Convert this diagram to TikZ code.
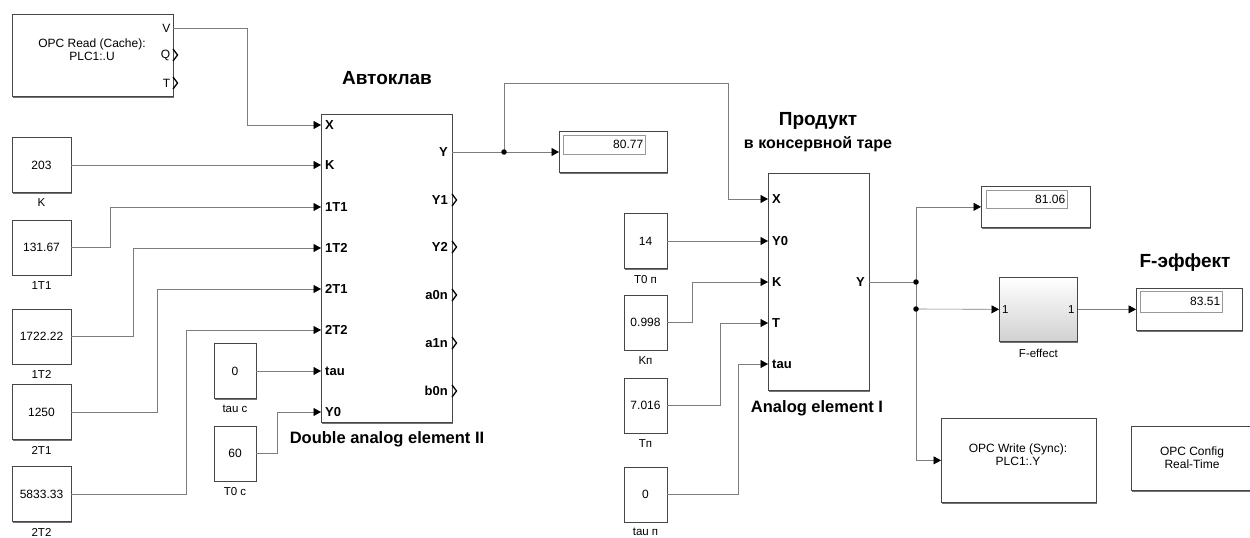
\documentclass[tikz,border=0pt]{standalone}
\usepackage{fontspec}
\setmainfont{Liberation Sans}
\usetikzlibrary{positioning,arrows.meta,shadows}
\definecolor{simline}{RGB}{125,125,125}
\definecolor{simedge}{RGB}{70,70,70}
\newcommand{\fsval}{\fontsize{12}{13}\selectfont}
\newcommand{\fslbl}{\fontsize{11.5}{13}\selectfont}
\newcommand{\fsport}{\fontsize{13}{15}\selectfont\bfseries}
\newcommand{\fstitle}{\fontsize{19}{22}\selectfont\bfseries}
\newcommand{\fssub}{\fontsize{16}{19}\selectfont\bfseries}
\newcommand{\fsname}{\fontsize{16.5}{19}\selectfont\bfseries}

\begin{document}
\begin{tikzpicture}[x=1pt, y=-1pt,
    blk/.style ={rectangle, draw=simedge, fill=white, line width=0.7pt, inner sep=0pt,
                 drop shadow={shadow xshift=1pt, shadow yshift=-1.2pt, fill=black!55, opacity=1}},
    cst/.style ={blk, minimum width=43pt, minimum height=55pt, font=\fsval},
    cstw/.style={cst, minimum width=59pt},
    disp/.style={blk, anchor=north west, minimum height=41pt},
    dval/.style={rectangle, draw=black!40, anchor=north west, inner xsep=2pt, inner ysep=0pt,
                 align=right, font=\fsval},
    inp/.style ={anchor=west, inner xsep=4pt, inner ysep=0pt, font=\fsport},
    outp/.style={anchor=east, inner xsep=4pt, inner ysep=0pt, font=\fsport},
    lbl/.style ={font=\fslbl, inner sep=0pt},
    txt/.style ={font=\fsval, align=center, inner sep=0pt},
    ttl/.style ={font=\fstitle, anchor=base, inner sep=0pt},
    wire/.style={draw=simline, line width=0.6pt},
    arr/.style ={wire, -{Triangle[length=7.5pt, width=8pt, color=black]}},
    chev/.style={draw=black, line width=1.3pt},
    dot/.style ={circle, fill=black, inner sep=0pt, minimum size=5.5pt}]
  \useasboundingbox (0,0) rectangle (1250,538);
  \fill[white] (0,0) rectangle (1250,538);

  \node[blk, anchor=north west, minimum width=161pt, minimum height=82pt] (opcr) at (12,14) {};
  \node[txt] (opcr-t) at (92,50) {OPC Read (Cache):\\PLC1:.U};
  \foreach \p/\y in {V/28, Q/55, T/83}
    \node[outp, inner xsep=2.5pt, font=\fsval] (opcr-\p) at (173,\y) {\p};
  \foreach \p in {Q, T}
    \draw[chev] (opcr-\p.east) ++(0,-6) -- ++(4.5,6) -- ++(-4.5,6);

  \node[blk, anchor=north west, minimum width=131pt, minimum height=308pt] (dae) at (321,114) {};
  \foreach \p/\y in {X/125, K/165, 1T1/207, 1T2/248, 2T1/289, 2T2/330, tau/371, Y0/412}
    \node[inp] (dae-\p) at (321,\y) {\p};
  \foreach \p/\y in {Y/152, Y1/200, Y2/247, a0n/295, a1n/343, b0n/391}
    \node[outp] (dae-\p) at (452,\y) {\p};
  \foreach \p in {Y1, Y2, a0n, a1n, b0n}
    \draw[chev] (dae-\p.east) ++(0,-6) -- ++(4.5,6) -- ++(-4.5,6);
  \node[ttl] (t-auto) at (387,84) {Автоклав};
  \node[ttl, font=\fsname] (t-dae) at (387,443) {Double analog element II};

  \node[cstw] (c203) at (41.5,165)   {203};
  \node[cstw] (c1T1) at (41.5,247.5) {131.67};
  \node[cstw] (c1T2) at (41.5,336.5) {1722.22};
  \node[cstw] (c2T1) at (41.5,412)   {1250};
  \node[cstw] (c2T2) at (41.5,494)   {5833.33};
  \node[cst, minimum width=42pt] (ctau) at (235,371)   {0};
  \node[cst, minimum width=42pt] (cT0)  at (235,453.5) {60};
  \foreach \c/\t in {c203/K, c1T1/1T1, c1T2/1T2, c2T1/2T1, c2T2/2T2, ctau/tau c, cT0/T0 c}
    \node[lbl, below=6pt of \c] (l\c) {\t};

  \node[disp, minimum width=108pt] (d1) at (559,131) {};
  \node[dval, text width=78pt, minimum height=19pt] (d1v) at ([shift={(4,4)}]d1.north west) {80.77};

  \node[blk, anchor=north west, minimum width=101pt, minimum height=217pt] (ae) at (768,173) {};
  \foreach \p/\y in {X/199, Y0/241, K/282, T/323, tau/364}
    \node[inp] (ae-\p) at (768,\y) {\p};
  \node[outp] (ae-Y) at (869,282) {Y};
  \node[ttl] (t-prod) at (818,125) {Продукт};
  \node[ttl, font=\fssub] (t-prod2) at (818,148) {в консервной таре};
  \node[ttl, font=\fsname] (t-ae) at (817,412) {Analog element I};

  \node[cst] (cY0)   at (645.5,241)   {14};
  \node[cst] (cK)    at (645.5,322.5) {0.998};
  \node[cst] (cT)    at (645.5,405.5) {7.016};
  \node[cst] (ctaun) at (645.5,494.5) {0};
  \foreach \c/\t in {cY0/T0 п, cK/Kп, cT/Tп, ctaun/tau п}
    \node[lbl, below=6pt of \c] (l\c) {\t};

  \node[disp, minimum width=109pt] (d2) at (981,186) {};
  \node[dval, text width=77pt, minimum height=18pt] (d2v) at ([shift={(5,4)}]d2.north west) {81.06};
  \node[blk, anchor=north west, minimum width=78pt, minimum height=64pt,
        top color=white, bottom color=black!18] (fef) at (999,277) {};
  \node[anchor=west, font=\fslbl, inner xsep=3pt] (fef-in) at (fef.west) {1};
  \node[anchor=east, font=\fslbl, inner xsep=3pt] (fef-out) at (fef.east) {1};
  \node[lbl, below=7pt of fef] (lfef) {F-effect};
  \node[disp, minimum width=106pt, minimum height=42pt] (d3) at (1136,288) {};
  \node[dval, text width=78pt, minimum height=21pt] (d3v) at ([shift={(4,3)}]d3.north west) {83.51};
  \node[ttl] (t-fef) at (1185,267) {F-эффект};

  \node[blk, anchor=north west, minimum width=155pt, minimum height=84pt] (opcw) at (941,418) {};
  \node[txt] (opcw-t) at (1018,455) {OPC Write (Sync):\\PLC1:.Y};
  \node[blk, anchor=north west, minimum width=130pt, minimum height=64pt] (opcc) at (1131,426) {};
  \node[txt] (opcc-t) at (1192,458) {OPC Config\\Real-Time};

  \draw[arr] (opcr-V.east) -- ++(74,0) |- (dae-X.west);
  \draw[arr] (c203.east) -- (dae-K.west);
  \draw[arr] (c1T1.east) -- ++(39,0) |- (dae-1T1.west);
  \draw[arr] (c1T2.east) -- ++(62,0) |- (dae-1T2.west);
  \draw[arr] (c2T1.east) -- ++(86,0) |- (dae-2T1.west);
  \draw[arr] (c2T2.east) -- ++(115,0) |- (dae-2T2.west);
  \draw[arr] (ctau.east) -- (dae-tau.west);
  \draw[arr] (cT0.east) -- ++(21,0) |- (dae-Y0.west);

  \coordinate (j1) at (504,152);
  \draw[wire] (dae-Y.east) -- (j1);
  \draw[arr] (j1) -- (j1 -| d1.west);
  \draw[arr] (j1) |- (728,83) |- (ae-X.west);
  \node[dot] (j1-dot) at (j1) {};

  \draw[arr] (cY0.east) -- (ae-Y0.west);
  \draw[arr] (cK.east) -- ++(25,0) |- (ae-K.west);
  \draw[arr] (cT.east) -- ++(53,0) |- (ae-T.west);
  \draw[arr] (ctaun.east) -- ++(71,0) |- (ae-tau.west);

  \coordinate (j2) at (916,282);
  \coordinate (j3) at (916,309);
  \draw[wire] (ae-Y.east) -- (j2);
  \draw[arr] (j2) |- (d2.west);
  \draw[arr] (j2) |- (opcw.west);
  \draw[arr] (j3) -- (fef.west);
  \draw[arr] (fef.east) -- (d3.west);
  \node[dot] (j2-dot) at (j2) {};
  \node[dot] (j3-dot) at (j3) {};
\end{tikzpicture}
\end{document}
